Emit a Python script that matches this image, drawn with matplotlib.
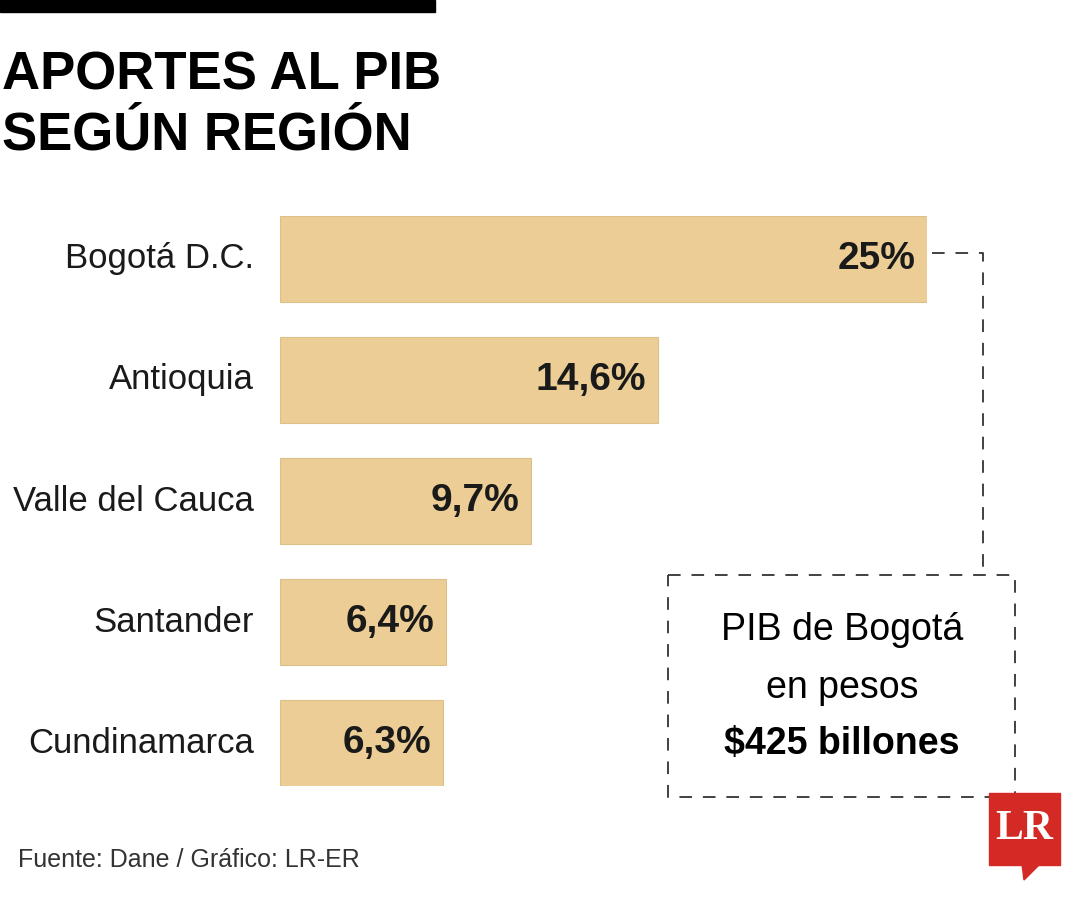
import matplotlib
matplotlib.use('Agg')
import matplotlib.pyplot as plt
from matplotlib.patches import Rectangle, Polygon
from matplotlib.lines import Line2D

regions = ['Bogotá D.C.', 'Antioquia', 'Valle del Cauca', 'Santander', 'Cundinamarca']
values = [25, 14.6, 9.7, 6.4, 6.3]
labels = ['25%', '14,6%', '9,7%', '6,4%', '6,3%']

plt.rcParams['font.family'] = ['Liberation Sans Narrow', 'Liberation Sans', 'DejaVu Sans']
W, H = 1080, 900
fig = plt.figure(figsize=(10.8, 9), dpi=100)
BAR = '#ebcd95'

def fx(x): return x / W
def fy(y): return 1 - y / H

ax = fig.add_axes([fx(280), fy(786), 647 / W, 570 / H])
ax.barh(range(len(values)), values, height=86 / 121, color=BAR, edgecolor='#dcc089', lw=0.8)
ax.set_xlim(0, 25)
ax.set_ylim(4 + 0.355, -0.355)
ax.axis('off')
for i, (v, lab) in enumerate(zip(values, labels)):
    ax.text(v - 0.45, i, lab, ha='right', va='center', fontsize=28, fontweight='bold', color='#1a1a1a')
    ax.text(-1.0, i, regions[i], ha='right', va='center', fontsize=25, color='#1a1a1a')

ov = fig.add_axes([0, 0, 1, 1])
ov.set_xlim(0, W); ov.set_ylim(H, 0); ov.axis('off')
ov.add_patch(Rectangle((0, 0), 435, 12, color='black'))
ov.text(2, 75, 'APORTES AL PIB', fontsize=38, fontweight='bold', va='center')
ov.text(2, 135, 'SEGÚN REGIÓN', fontsize=38, fontweight='bold', va='center')
dash = dict(color='#333333', lw=1.3, ls=(0, (7, 6)))
ov.add_line(Line2D([932, 983, 983], [253, 253, 575], **dash))
ov.add_patch(Rectangle((668, 575), 347, 222, fill=False, **dash))
ov.text(842, 630, 'PIB de Bogotá', ha='center', va='center', fontsize=27)
ov.text(842, 688, 'en pesos', ha='center', va='center', fontsize=27)
ov.text(842, 744, '$425 billones', ha='center', va='center', fontsize=27, fontweight='bold')
ov.text(18, 860, 'Fuente: Dane / Gráfico: LR-ER', va='center', fontsize=18, color='#333333')
ov.add_patch(Rectangle((989, 793), 71, 72, color='#d42a26'))
ov.add_patch(Polygon([(1022, 864), (1040, 864), (1024, 880)], color='#d42a26'))
ov.text(1024, 829, 'LR', ha='center', va='center', fontsize=30, fontweight='bold', color='white',
        family=['Liberation Serif', 'DejaVu Serif'])

fig.savefig('out.png', dpi=100, facecolor='white')
